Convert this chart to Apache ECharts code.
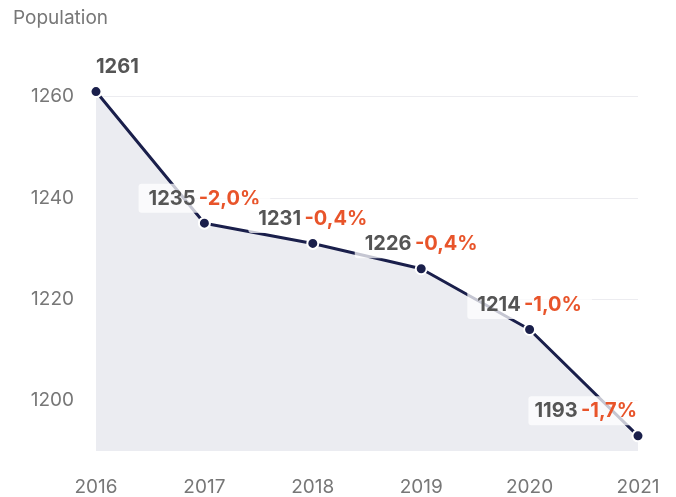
<!DOCTYPE html>
<html>
<head>
<meta charset="utf-8">
<script src="https://cdn.jsdelivr.net/npm/echarts@6/dist/echarts.min.js"></script>
<style>
  html, body { margin: 0; padding: 0; background: #fff; }
  #chart { width: 676px; height: 497px; }
</style>
</head>
<body>
<div id="chart"></div>
<script>
// Yearly population with year-over-year change
const years = ['2016', '2017', '2018', '2019', '2020', '2021'];
const population = [1261, 1235, 1231, 1226, 1214, 1193];
const changes = ['', '-2,0%', '-0,4%', '-0,4%', '-1,0%', '-1,7%'];
const yMin = 1190;
const yMax = 1270;
const yStep = 10;
const yLabelStep = 20;

const FONT = 'Inter, "Noto Sans", sans-serif';

function pointLabel(i) {
  const base = {
    show: true,
    position: 'top',
    distance: 4,
    backgroundColor: 'rgba(255,255,255,0.75)',
    borderRadius: 3,
    padding: [5, 10, 4, 10],
    formatter: changes[i] ? '{v|' + population[i] + '} {p|' + changes[i] + '}' : '{v|' + population[i] + '}',
    rich: {
      v: { color: '#555', fontSize: 20, fontWeight: 700, fontFamily: FONT },
      p: { color: '#e8542a', fontSize: 20, fontWeight: 700, fontFamily: FONT }
    }
  };
  if (i === 0) {
    base.align = 'left';
    base.offset = [-10, 0];
  } else if (i === population.length - 1) {
    base.align = 'right';
    base.padding = [5, 1, 4, 6];
  }
  return base;
}

const chart = echarts.init(document.getElementById('chart'), null, { renderer: 'canvas' });
chart.setOption({
  animation: false,
  title: {
    text: 'Population',
    left: 8,
    top: 4,
    textStyle: { color: '#777', fontSize: 19, fontWeight: 400, fontFamily: FONT }
  },
  grid: { left: 96, right: 38, top: 46, bottom: 45 },
  xAxis: {
    type: 'category',
    data: years,
    boundaryGap: false,
    axisLine: { show: false },
    axisTick: { show: false },
    axisLabel: { color: '#777', fontSize: 19, fontFamily: FONT, margin: 27 }
  },
  yAxis: {
    type: 'value',
    min: yMin,
    max: yMax,
    interval: yStep,
    axisLine: { show: false },
    axisTick: { show: false },
    axisLabel: {
      color: '#777',
      fontSize: 19,
      fontFamily: FONT,
      margin: 22,
      showMinLabel: false,
      showMaxLabel: false,
      formatter: function (v) {
        return v % yLabelStep === 0 ? String(v) : '';
      }
    },
    splitLine: {
      lineStyle: { color: ['transparent', '#ececf0'], width: 1 }
    }
  },
  series: [{
    type: 'line',
    data: population.map(function (v, i) { return { value: v, label: pointLabel(i) }; }),
    symbol: 'circle',
    symbolSize: 11,
    itemStyle: { color: '#1a1f4b', borderColor: '#fff', borderWidth: 2 },
    lineStyle: { color: '#1a1f4b', width: 3 },
    areaStyle: { color: '#ebecf1', opacity: 1 },
    z: 2
  }]
});
</script>
</body>
</html>
